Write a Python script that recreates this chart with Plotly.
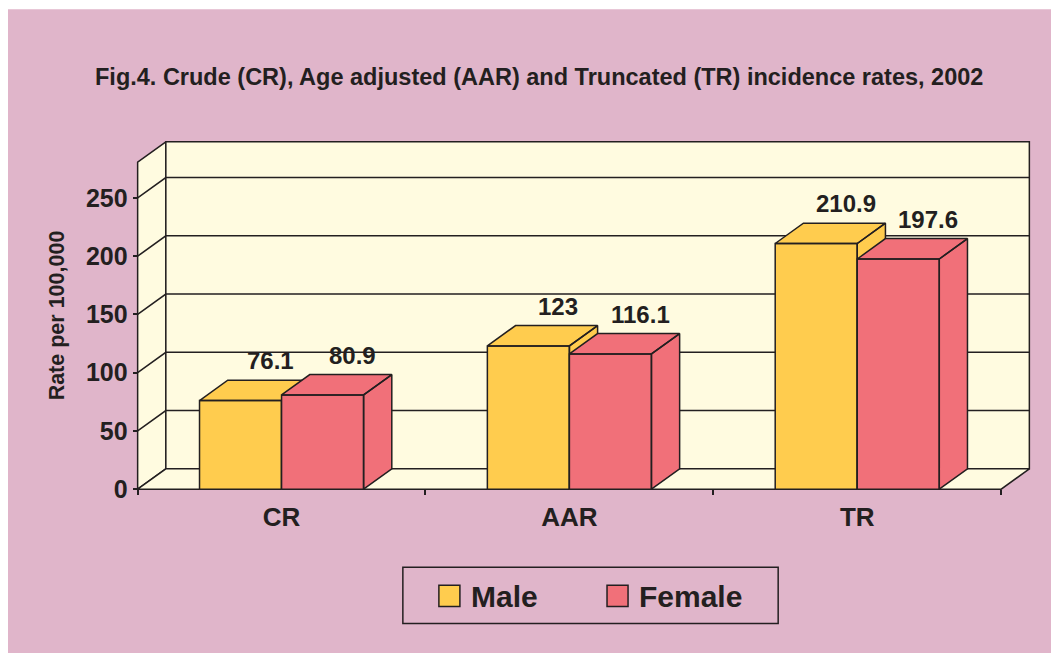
import plotly.graph_objects as go

categories = ["CR", "AAR", "TR"]
male = [76.1, 123, 210.9]
female = [80.9, 116.1, 197.6]
y_ticks = [0, 50, 100, 150, 200, 250]

title = "Fig.4. Crude (CR), Age adjusted (AAR) and Truncated (TR) incidence rates, 2002"
y_title = "Rate per 100,000"

# colours
BG = "#E0B5CA"
WALL = "#FFFBE0"
INK = "#231F20"
YELLOW = "#FFCC4E"
RED = "#F17079"

# 3d geometry in data units
DX, DY = 0.098, 17.5
GAP, BW = 0.215, 0.285
WALL_TOP = 280.7

# pixel layout (reference pixels; the page body adds an 8px offset)
OFF = 8
W, H = 1059 - OFF, 653 - OFF
PXX, PXY = 287.6, 1.1628
XPAD, YPAD = 0.03, 5
x_range = [-XPAD, 3 + DX + XPAD]
y_range = [-YPAD, WALL_TOP + DY + YPAD]
left = 138 - OFF - XPAD * PXX
bottom_px = 489 - OFF + YPAD * PXY
top = 489 - OFF - (WALL_TOP + DY + YPAD) * PXY
plot_w = (x_range[1] - x_range[0]) * PXX
plot_h = (y_range[1] - y_range[0]) * PXY
right = W - left - plot_w
bottom = H - bottom_px


def px(x):
    return (x - OFF - left) / plot_w


def py(y):
    return (bottom_px - (y - OFF)) / plot_h


fig = go.Figure()


def poly(xs, ys, fill, lw=1.5):
    fig.add_trace(go.Scatter(x=xs, y=ys, mode="lines", fill="toself",
                             fillcolor=fill, line=dict(color=INK, width=lw),
                             hoverinfo="skip", showlegend=False))


# walls and floor
poly([0, 0, DX, DX, 0], [0, WALL_TOP, WALL_TOP + DY, DY, 0], WALL)
poly([DX, 3 + DX, 3 + DX, DX, DX], [DY, DY, WALL_TOP + DY, WALL_TOP + DY, DY], WALL)
poly([0, 3, 3 + DX, DX, 0], [0, 0, DY, DY, 0], WALL)

gx, gy = [], []
for t in y_ticks[1:]:
    gx += [0, DX, 3 + DX, None]
    gy += [t, t + DY, t + DY, None]
fig.add_trace(go.Scatter(x=gx, y=gy, mode="lines", line=dict(color=INK, width=1.5),
                         hoverinfo="skip", showlegend=False))


def bar(x0, v, color):
    x1 = x0 + BW
    xs = [x0, x1, x1, x0, x0, None,
          x1, x1 + DX, x1 + DX, x1, x1, None,
          x0, x1, x1 + DX, x0 + DX, x0]
    ys = [0, 0, v, v, 0, None,
          0, DY, v + DY, v, 0, None,
          v, v, v + DY, v + DY, v]
    poly(xs, ys, color)


for i, cat in enumerate(categories):
    bar(i + GAP, male[i], YELLOW)
    bar(i + GAP + BW, female[i], RED)
    for off, v in ((GAP, male[i]), (GAP + BW, female[i])):
        fig.add_annotation(x=i + off + BW / 2 + 0.104, y=v + 34, text=f"{v:g}",
                           showarrow=False, yanchor="middle",
                           font=dict(size=24, color=INK, weight="bold"))

# background panel
fig.add_shape(type="rect", xref="paper", yref="paper", layer="below",
              x0=px(6), x1=px(1059 + 20), y0=py(653 + 20), y1=py(10),
              fillcolor=BG, line=dict(width=0))

# legend box
fig.add_shape(type="rect", xref="paper", yref="paper",
              x0=px(403), x1=px(778), y0=py(623), y1=py(567),
              line=dict(color=INK, width=1.5), fillcolor="rgba(0,0,0,0)")
for sx, tx, name, col in ((439, 469, "Male", YELLOW), (607, 637, "Female", RED)):
    fig.add_shape(type="rect", xref="paper", yref="paper",
                  x0=px(sx), x1=px(sx + 21), y0=py(606), y1=py(585),
                  line=dict(color=INK, width=1.5), fillcolor=col)
    fig.add_annotation(xref="paper", yref="paper", x=px(tx), y=py(596),
                       xanchor="left", yanchor="middle", showarrow=False, text=name,
                       font=dict(size=30, color=INK, weight="bold"))

fig.add_annotation(xref="paper", yref="paper", x=px(539), y=py(78), text=title,
                   showarrow=False, xanchor="center", yanchor="middle",
                   font=dict(size=23.5, color=INK, weight="bold"))

fig.update_xaxes(
    range=x_range,
    tickvals=[0.5, 1.5, 2.5],
    ticktext=categories,
    ticks="",
    ticklabelstandoff=10,
    minor=dict(tickvals=[0, 1, 2, 3], ticks="outside", ticklen=5,
               tickwidth=1.5, tickcolor=INK),
    tickfont=dict(size=26, color=INK, weight="bold"),
    showgrid=False, zeroline=False, showline=False,
    anchor="free", position=YPAD / (y_range[1] - y_range[0]),
)
fig.update_yaxes(
    range=y_range,
    tickvals=y_ticks,
    ticks="outside", ticklen=5, tickwidth=1.5, tickcolor=INK,
    tickfont=dict(size=25, color=INK, weight="bold"),
    title=dict(text=y_title, font=dict(size=21.5, color=INK, weight="bold"), standoff=14),
    showgrid=False, zeroline=False, showline=False,
    anchor="free", position=XPAD / (x_range[1] - x_range[0]),
)
fig.update_layout(
    width=W, height=H,
    margin=dict(l=left, r=right, t=top, b=bottom),
    paper_bgcolor="white", plot_bgcolor="rgba(0,0,0,0)",
    font=dict(family="Liberation Sans, Arial, sans-serif", color=INK),
    showlegend=False,
)

fig.write_html("out.html")
